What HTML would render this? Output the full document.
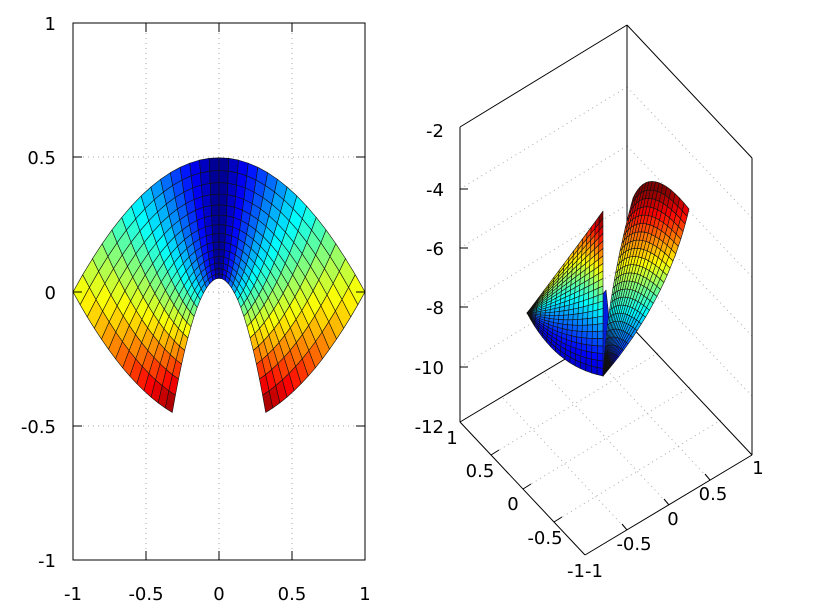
<!DOCTYPE html>
<html><head><meta charset="utf-8"><style>
html,body{margin:0;padding:0;background:#fff}
svg{display:block}
text{font-family:"DejaVu Sans","Liberation Sans",sans-serif;font-size:18px;fill:#000}
</style></head><body>
<svg id="s" width="819" height="615" viewBox="0 0 819 615" xmlns="http://www.w3.org/2000/svg">
<rect width="819" height="615" fill="#fff"/>
<g stroke="#aaa" stroke-width="1" stroke-dasharray="1,4">
<line x1="146" y1="23" x2="146" y2="560"/><line x1="219" y1="23" x2="219" y2="560"/><line x1="292" y1="23" x2="292" y2="560"/>
<line x1="73" y1="157" x2="365" y2="157"/><line x1="73" y1="292" x2="365" y2="292"/><line x1="73" y1="426" x2="365" y2="426"/>
</g>
<g id="left"></g>
<rect x="73" y="23" width="292" height="537" fill="none" stroke="#000" stroke-width="1"/>
<g stroke="#000" stroke-width="1">
<line x1="73" y1="157" x2="82" y2="157"/><line x1="365" y1="157" x2="356" y2="157"/>
<line x1="73" y1="292" x2="82" y2="292"/><line x1="365" y1="292" x2="356" y2="292"/>
<line x1="73" y1="426" x2="82" y2="426"/><line x1="365" y1="426" x2="356" y2="426"/>
<line x1="146" y1="560" x2="146" y2="551"/><line x1="219" y1="560" x2="219" y2="551"/><line x1="292" y1="560" x2="292" y2="551"/>
<line x1="146" y1="23" x2="146" y2="32"/><line x1="219" y1="23" x2="219" y2="32"/><line x1="292" y1="23" x2="292" y2="32"/>
</g>
<g text-anchor="end">
<text x="56" y="30">1</text><text x="56" y="164">0.5</text><text x="56" y="299">0</text><text x="56" y="433">-0.5</text><text x="56" y="567">-1</text>
</g>
<g text-anchor="middle">
<text x="73" y="600">-1</text><text x="146" y="600">-0.5</text><text x="219" y="600">0</text><text x="292" y="600">0.5</text><text x="365" y="600">1</text>
</g>
<g stroke="#aaa" stroke-width="1" stroke-dasharray="1,4" fill="none">
<line x1="460" y1="189" x2="627" y2="87"/><line x1="460" y1="248" x2="627" y2="146"/><line x1="460" y1="307" x2="627" y2="205"/><line x1="460" y1="367" x2="627" y2="265"/>
<line x1="627" y1="87" x2="752" y2="218"/><line x1="627" y1="146" x2="752" y2="277"/><line x1="627" y1="205" x2="752" y2="336"/><line x1="627" y1="265" x2="752" y2="396"/>
<line x1="491" y1="455" x2="658" y2="353"/><line x1="523" y1="489" x2="690" y2="387"/><line x1="554" y1="522" x2="721" y2="420"/>
<line x1="627" y1="530" x2="502" y2="397"/><line x1="669" y1="505" x2="544" y2="372"/><line x1="710" y1="480" x2="585" y2="347"/>
</g>
<g stroke="#000" stroke-width="1" fill="none">
<line x1="460" y1="127" x2="460" y2="422"/>
<line x1="460" y1="127" x2="627" y2="25"/>
<line x1="627" y1="25" x2="752" y2="158"/>
<line x1="752" y1="158" x2="752" y2="455"/>
<line x1="627" y1="25" x2="627" y2="322"/>
<line x1="460" y1="422" x2="585" y2="555"/>
<line x1="585" y1="555" x2="752" y2="455"/>
<line x1="627" y1="322" x2="460" y2="422"/>
<line x1="627" y1="322" x2="752" y2="455"/>
<line x1="460" y1="189" x2="468" y2="189"/><line x1="460" y1="248" x2="468" y2="248"/><line x1="460" y1="307" x2="468" y2="307"/><line x1="460" y1="367" x2="468" y2="367"/>
<line x1="491" y1="455" x2="499" y2="450"/><line x1="523" y1="489" x2="531" y2="484"/><line x1="554" y1="522" x2="562" y2="517"/>
<line x1="627" y1="530" x2="622" y2="524"/><line x1="669" y1="505" x2="664" y2="499"/><line x1="710" y1="480" x2="705" y2="474"/>
</g>
<g id="right"></g>
<g text-anchor="end">
<text x="444" y="137">-2</text><text x="444" y="196">-4</text><text x="444" y="255">-6</text><text x="444" y="314">-8</text><text x="444" y="374">-10</text><text x="444" y="433">-12</text>
</g>
<g text-anchor="middle">
<text x="452" y="444">1</text><text x="480" y="477">0.5</text><text x="513" y="510">0</text><text x="545" y="544">-0.5</text><text x="576" y="577">-1</text>
<text x="594" y="577">-1</text><text x="634" y="550">-0.5</text><text x="673" y="525">0</text><text x="713" y="500">0.5</text><text x="758" y="474">1</text>
</g>
</svg>
<script>
function jet(t){t=Math.max(0,Math.min(1,t));
function c(x){return Math.round(255*Math.max(0,Math.min(1,x)));}
var r=c(1.5-Math.abs(4*t-3)),g=c(1.5-Math.abs(4*t-2)),b=c(1.5-Math.abs(4*t-1));
return "rgb("+r+","+g+","+b+")";}
var NS="http://www.w3.org/2000/svg";
function poly(g,pts,col){var p=document.createElementNS(NS,"polygon");
p.setAttribute("points",pts.map(function(q){return q[0].toFixed(1)+","+q[1].toFixed(1)}).join(" "));
p.setAttribute("fill",col);p.setAttribute("stroke","#111");p.setAttribute("stroke-width","0.6");p.setAttribute("stroke-linejoin","round");g.appendChild(p);}
var L=document.getElementById("left");
function lp(u,v){var X=u*v,Y=(v*v-u*u)/2;return [219+X*146,292-Y*268.5];}
var NU=30,NV=14;
for(var j=0;j<NV;j++)for(var i=0;i<NU;i++){
var u0=-1+2*i/NU,u1=-1+2*(i+1)/NU,v0=0.32+0.68*j/NV,v1=0.32+0.68*(j+1)/NV;
var um=Math.abs((u0+u1)/2),vm=(v0+v1)/2;
poly(L,[lp(u0,v0),lp(u1,v0),lp(u1,v1),lp(u0,v1)],jet(um*(1.18-0.56*vm)));}
var R=document.getElementById("right");
function lerp(a,b,t){return [a[0]+(b[0]-a[0])*t,a[1]+(b[1]-a[1])*t];}
function bez(a,c,b,t){var s=1-t;return [s*s*a[0]+2*s*t*c[0]+t*t*b[0],s*s*a[1]+2*s*t*c[1]+t*t*b[1]];}
// blue patch behind
poly(R,[[598,300],[606,290],[612,345],[603,376]],"rgb(0,30,220)");
var Lp=[527,313],T=[603,211],B=[603,376];
function ls(u,v){var Rv=lerp(T,B,v);var ctrl=lerp(Lp,Rv,0.5);
var off=lerp([8,-10],[-10,22],v);ctrl=[ctrl[0]+off[0],ctrl[1]+off[1]];return bez(Lp,ctrl,Rv,u);}
var N1=16,N2=22;
for(var j=0;j<N2;j++)for(var i=0;i<N1;i++){
var a=ls(i/N1,j/N2),b=ls((i+1)/N1,j/N2),c=ls((i+1)/N1,(j+1)/N2),d=ls(i/N1,(j+1)/N2);
var v=(j+0.5)/N2,u=(i+0.5)/N1;
var t=0.08+Math.pow(1-v,1.3)*(0.55+0.45*Math.pow(u,3));
poly(R,[a,b,c,d],jet(t));}
var TL=[633,198],TC=[650,160],TR=[689,209];
function rs(u,v){var top=bez(TL,TC,TR,v);var ctrl=lerp(B,top,0.5);
var off=lerp([-10,2],[22,8],v);ctrl=[ctrl[0]+off[0],ctrl[1]+off[1]];return bez(B,ctrl,top,u);}
var M1=24,M2=16;
for(var i=0;i<M1;i++)for(var j=0;j<M2;j++){
var a=rs(i/M1,j/M2),b=rs((i+1)/M1,j/M2),c=rs((i+1)/M1,(j+1)/M2),d=rs(i/M1,(j+1)/M2);
var my=(a[1]+b[1]+c[1]+d[1])/4;
var t=0.05+0.95*(375-my)/185;
poly(R,[a,b,c,d],jet(t));}
</script>
</body></html>
